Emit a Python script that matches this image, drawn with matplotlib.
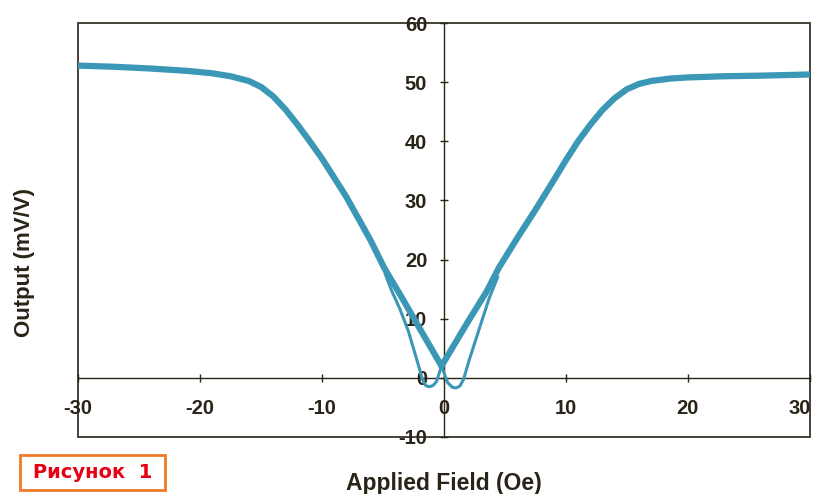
import matplotlib
matplotlib.use("Agg")
import matplotlib.pyplot as plt
import matplotlib.transforms as mtransforms
from matplotlib.patches import Rectangle

# outer branches (both sweeps overlap here, drawn thick)
left_field = [-30, -27, -24, -21, -19, -17.5, -16, -15, -14, -13, -12, -11, -10,
              -8, -6, -4.9, -3.4, -2, -0.2]
left_out = [52.8, 52.6, 52.3, 51.9, 51.5, 51.0, 50.2, 49.2, 47.6, 45.4, 42.8, 40.0, 37.1,
            30.6, 23.2, 18.6, 13.4, 8.4, 2.0]

right_field = [-0.2, 2, 3.5, 4.5, 6, 7.5, 9, 10, 11, 12, 13, 14, 15, 16, 17,
               18.5, 20, 23, 26, 30]
right_out = [2.0, 9.6, 14.6, 18.6, 23.6, 28.4, 33.4, 36.8, 40.0, 42.8, 45.3, 47.3, 48.8,
             49.7, 50.2, 50.6, 50.8, 51.0, 51.1, 51.3]

# hysteresis loops near zero field (single traces, drawn thin)
loop_left_field = [-0.2, -0.6, -0.9, -1.2, -1.5, -1.75, -2.3, -2.9, -3.6, -4.3, -4.8]
loop_left_out = [2.0, -0.6, -1.3, -1.5, -1.3, -0.3, 3.6, 7.8, 11.6, 14.8, 17.5]

loop_right_field = [-0.2, 0.3, 0.7, 1.0, 1.3, 1.6, 2.1, 2.9, 3.7, 4.4]
loop_right_out = [2.0, -0.8, -1.6, -1.7, -1.4, -0.3, 3.2, 8.3, 13.4, 17.0]

x_ticks = [-30, -20, -10, 0, 10, 20, 30]
y_ticks = [-10, 0, 10, 20, 30, 40, 50, 60]

line_color = "#3a97b5"
ink = "#2a2418"

plt.rcParams["font.family"] = ["Liberation Sans", "DejaVu Sans"]

fig = plt.figure(figsize=(8.18, 4.94), dpi=100)
ax = fig.add_axes([0.0954, 0.1154, 0.8946, 0.838])

ax.plot(left_field, left_out, color=line_color, lw=4.5, solid_capstyle="round", zorder=3)
ax.plot(right_field, right_out, color=line_color, lw=4.5, solid_capstyle="round", zorder=3)
ax.plot(loop_left_field, loop_left_out, color=line_color, lw=2.2, zorder=3)
ax.plot(loop_right_field, loop_right_out, color=line_color, lw=2.2, zorder=3)

ax.set_xlim(-30, 30)
ax.set_ylim(-10, 60)

# axes cross at the origin, box drawn around the plot area
ax.spines["left"].set_position(("data", 0))
ax.spines["bottom"].set_position(("data", 0))
ax.spines["top"].set_visible(False)
ax.spines["right"].set_visible(False)
for s in ["left", "bottom"]:
    ax.spines[s].set_color(ink)
    ax.spines[s].set_linewidth(1.0)
    ax.spines[s].set_zorder(2)
ax.add_patch(Rectangle((0, 0), 1, 1, transform=ax.transAxes, fill=False,
                       ec=ink, lw=1.2, clip_on=False, zorder=2))

ax.set_xticks(x_ticks)
ax.set_yticks(y_ticks)
ax.set_xticklabels([str(t) for t in x_ticks])
ax.set_yticklabels([str(t) for t in y_ticks])
ax.tick_params(axis="x", direction="inout", length=6, width=1, color=ink, pad=12,
               labelsize=14.5, labelcolor=ink)
ax.tick_params(axis="y", direction="inout", length=6, width=1, color=ink, pad=9,
               labelsize=14.5, labelcolor=ink)
for lab in ax.get_xticklabels() + ax.get_yticklabels():
    lab.set_fontweight("bold")

# last x label sits on the right edge; nudge it left so it stays inside
last = ax.get_xticklabels()[-1]
last.set_transform(last.get_transform() +
                   mtransforms.ScaledTranslation(-7 / 72, 0, fig.dpi_scale_trans))

fig.text(0.03, 0.468, "Output (mV/V)", rotation=90, ha="center", va="center",
         fontsize=16, fontweight="bold", color=ink)
fig.text(0.543, 0.022, "Applied Field (Oe)", ha="center", va="center",
         fontsize=16.5, fontweight="bold", color=ink)

# label box in the lower left corner
fig.patches.append(Rectangle((0.0244, 0.0081), 0.1773, 0.0709, transform=fig.transFigure,
                             fill=True, fc="white", ec="#f07a28", lw=2, figure=fig))
fig.text(0.1131, 0.0435, "Рисунок  1", ha="center", va="center", fontsize=14,
         fontweight="bold", color="#e60012", family=["DejaVu Sans"])

fig.savefig("out.png", dpi=100)
